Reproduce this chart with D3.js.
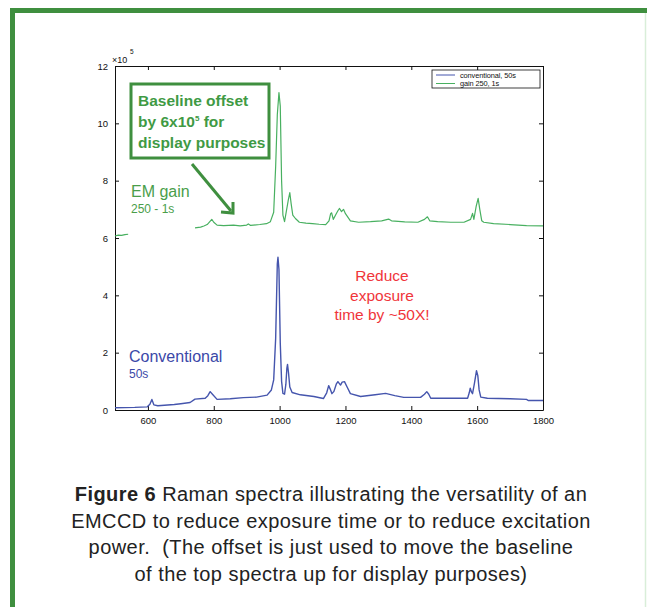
<!DOCTYPE html>
<html>
<head>
<meta charset="utf-8">
<script src="https://cdn.jsdelivr.net/npm/d3@7"></script>
<style>
  body { margin: 0; background: #fff; }
  svg { display: block; font-family: "Liberation Sans", Arial, Helvetica, sans-serif; }
</style>
</head>
<body>
<svg id="chart" width="647" height="607"></svg>
<script>
// conventional, 50s  (counts x 1e5)
var convWn  = [500, 560, 598, 606, 612, 618, 630, 680, 700, 728, 743, 774, 782, 789, 796, 810, 850, 890, 930, 962,
               975, 982, 988, 993, 995, 998, 1002, 1006, 1010, 1015, 1019, 1022, 1024, 1027, 1031, 1038, 1063, 1104,
               1133, 1143, 1149, 1154, 1159, 1165, 1172, 1177, 1185, 1190, 1197, 1205, 1215, 1246, 1290, 1322, 1350,
               1377, 1428, 1440, 1447, 1453, 1459, 1571, 1576, 1579, 1583, 1586, 1592, 1598, 1602, 1606, 1611, 1631,
               1700, 1750, 1755, 1800];
var convVal = [0.08, 0.09, 0.11, 0.2, 0.37, 0.18, 0.15, 0.19, 0.22, 0.26, 0.38, 0.41, 0.5, 0.64, 0.55, 0.37, 0.39, 0.43, 0.45, 0.52,
               0.7, 1.05, 2.5, 5.1, 5.33, 4.9, 2.33, 1.0, 0.58, 0.55, 0.9, 1.45, 1.59, 1.3, 0.8, 0.61, 0.53, 0.47,
               0.4, 0.6, 0.85, 0.72, 0.57, 0.65, 0.9, 0.99, 0.87, 0.97, 0.99, 0.8, 0.57, 0.47, 0.53, 0.58, 0.5,
               0.44, 0.44, 0.55, 0.64, 0.55, 0.41, 0.41, 0.6, 0.76, 0.62, 0.57, 0.95, 1.37, 1.2, 0.7, 0.45, 0.41,
               0.39, 0.37, 0.33, 0.33];

// gain 250, 1s (counts x 1e5, before the display offset); null = gap
var gainWn  = [500, 510, 520, 530, 540, 541,
               743, 760, 770, 780, 794, 800, 810, 830, 860, 880, 900, 905, 912, 940, 960, 972, 982, 988, 993, 998,
               1002, 1006, 1010, 1015, 1020, 1026, 1031, 1035, 1040, 1048, 1060, 1080, 1100, 1120, 1140, 1150, 1155,
               1158, 1163, 1170, 1177, 1182, 1188, 1194, 1200, 1215, 1240, 1276, 1310, 1331, 1340, 1380, 1420, 1440,
               1449, 1456, 1480, 1520, 1560, 1580, 1586, 1590, 1597, 1603, 1608, 1614, 1620, 1650, 1700, 1750, 1800];
var gainVal = [0.07, 0.1, 0.09, 0.12, 0.13, null,
               0.35, 0.38, 0.42, 0.47, 0.65, 0.55, 0.45, 0.43, 0.45, 0.42, 0.45, 0.49, 0.44, 0.47, 0.5, 0.57, 0.9, 2.5, 4.3, 5.07,
               4.6, 2.0, 0.8, 0.57, 0.9, 1.3, 1.58, 1.2, 0.8, 0.68, 0.55, 0.52, 0.5, 0.48, 0.47, 0.6, 0.85,
               0.88, 0.65, 0.8, 0.95, 1.03, 0.92, 1.0, 0.85, 0.6, 0.55, 0.57, 0.6, 0.66, 0.6, 0.56, 0.55, 0.65,
               0.74, 0.6, 0.57, 0.55, 0.55, 0.65, 0.86, 0.65, 1.1, 1.38, 1.0, 0.6, 0.55, 0.5, 0.47, 0.43, 0.42];
var gainOffset = 6;

var xTicks = [600, 800, 1000, 1200, 1400, 1600, 1800];
var yTicks = [0, 2, 4, 6, 8, 10, 12];
var legendLabels = ["conventional, 50s", "gain 250, 1s"];
var captionLines = [
  ["Figure 6", " Raman spectra illustrating the versatility of an"],
  ["", "EMCCD to reduce exposure time or to reduce excitation"],
  ["", "power.  (The offset is just used to move the baseline"],
  ["", "of the top spectra up for display purposes)"]
];

var blue = "#4555ad", green = "#48b060", dkGreen = "#3f8f3f";

var svg = d3.select("#chart");

// page frame
svg.append("rect").attr("x", 10).attr("y", 8).attr("width", 637).attr("height", 5).attr("fill", dkGreen);
svg.append("rect").attr("x", 10).attr("y", 8).attr("width", 5).attr("height", 599).attr("fill", dkGreen);
svg.append("line").attr("x1", 645.5).attr("x2", 645.5).attr("y1", 13).attr("y2", 607)
  .attr("stroke", "#d9eed9").attr("stroke-width", 1.5);

var margin = {top: 66, left: 115},
    width = 428, height = 344;

var x = d3.scaleLinear().domain([500, 1800]).range([0, width]);
var y = d3.scaleLinear().domain([0, 12]).range([height, 0]);

var g = svg.append("g").attr("transform", "translate(" + margin.left + "," + margin.top + ")");

// axes, MATLAB style ticks pointing in
var xAxis = g.append("g").attr("transform", "translate(0," + height + ")")
  .call(d3.axisBottom(x).tickValues(xTicks).tickFormat(d3.format("d")).tickSizeInner(-4).tickSizeOuter(0).tickPadding(7));
var xTop = g.append("g")
  .call(d3.axisTop(x).tickValues(xTicks).tickSizeInner(-4).tickSizeOuter(0).tickFormat(""));
var yAxis = g.append("g")
  .call(d3.axisLeft(y).tickValues(yTicks).tickSizeInner(-4).tickSizeOuter(0).tickPadding(7));
var yRight = g.append("g").attr("transform", "translate(" + width + ",0)")
  .call(d3.axisRight(y).tickValues(yTicks).tickSizeInner(-4).tickSizeOuter(0).tickFormat(""));
[xAxis, xTop, yAxis, yRight].forEach(function(a) {
  a.selectAll("text").attr("font-size", 9.5).attr("font-family", "Liberation Sans, Arial, sans-serif").attr("fill", "#111");
  a.selectAll("line, path").attr("stroke", "#111");
});

g.append("text").attr("x", -3).attr("y", -3).attr("font-size", 9).attr("fill", "#111").text("\u00d710");
g.append("text").attr("x", 15).attr("y", -12).attr("font-size", 6.5).attr("fill", "#111").text("5");

// spectra
var convData = convWn.map(function(w, i) { return {x: w, y: convVal[i]}; });
var gainData = gainWn.map(function(w, i) { return {x: w, y: gainVal[i] == null ? null : gainVal[i] + gainOffset}; });

var line = d3.line()
  .defined(function(d) { return d.y != null; })
  .x(function(d) { return x(d.x); })
  .y(function(d) { return y(d.y); });

g.append("path").datum(gainData).attr("d", line)
  .attr("fill", "none").attr("stroke", green).attr("stroke-width", 1.2).attr("stroke-linejoin", "round");
g.append("path").datum(convData).attr("d", line)
  .attr("fill", "none").attr("stroke", blue).attr("stroke-width", 1.4).attr("stroke-linejoin", "round");

// legend
var leg = g.append("g").attr("transform", "translate(317,4)");
leg.append("rect").attr("width", 108).attr("height", 18).attr("fill", "#fff").attr("stroke", "#111").attr("stroke-width", 0.8);
legendLabels.forEach(function(l, i) {
  leg.append("line").attr("x1", 4).attr("x2", 23).attr("y1", 5 + i * 8.5).attr("y2", 5 + i * 8.5)
    .attr("stroke", i == 0 ? blue : green).attr("stroke-width", 1);
  leg.append("text").attr("x", 28).attr("y", 7.6 + i * 8.5).attr("font-size", 7.4).attr("letter-spacing", -0.1)
    .attr("fill", "#111").text(l);
});

// annotations
svg.append("rect").attr("x", 131).attr("y", 84).attr("width", 138).attr("height", 74)
  .attr("fill", "#fff").attr("stroke", dkGreen).attr("stroke-width", 3);
var box = svg.append("text").attr("font-size", 15.5).attr("fill", "#3f9a44").attr("font-weight", "bold");
box.append("tspan").attr("x", 138).attr("y", 106).text("Baseline offset");
var l2 = box.append("tspan").attr("x", 138).attr("y", 127).text("by 6x10");
l2.append("tspan").attr("font-size", 8).attr("dy", -6).text("5");
l2.append("tspan").attr("dy", 6).text(" for");
box.append("tspan").attr("x", 138).attr("y", 148).text("display purposes");

svg.append("line").attr("x1", 192).attr("y1", 164).attr("x2", 231).attr("y2", 211)
  .attr("stroke", dkGreen).attr("stroke-width", 3);
svg.append("path").attr("d", "M221,212 L233,213 L233,202")
  .attr("fill", "none").attr("stroke", dkGreen).attr("stroke-width", 3);

svg.append("text").attr("x", 131).attr("y", 197).attr("font-size", 16).attr("fill", "#4a9e4a").text("EM gain");
svg.append("text").attr("x", 131).attr("y", 213).attr("font-size", 12).attr("fill", "#4a9e4a").text("250 - 1s");

svg.append("text").attr("x", 129).attr("y", 362).attr("font-size", 16).attr("fill", "#3b48a8").text("Conventional");
svg.append("text").attr("x", 129).attr("y", 378).attr("font-size", 12).attr("fill", "#3b48a8").text("50s");

var red = svg.append("text").attr("text-anchor", "middle").attr("font-size", 15.5).attr("fill", "#f0353b");
["Reduce", "exposure", "time by ~50X!"].forEach(function(t, i) {
  red.append("tspan").attr("x", 382).attr("y", 281 + i * 19.5).text(t);
});

// caption
captionLines.forEach(function(parts, i) {
  var t = svg.append("text").attr("x", 331).attr("y", 501 + i * 26.5).attr("text-anchor", "middle")
    .attr("font-size", 20).attr("letter-spacing", 0.45).attr("fill", "#222").style("white-space", "pre");
  if (parts[0]) t.append("tspan").attr("font-weight", "bold").text(parts[0]);
  t.append("tspan").text(parts[1]);
});
</script>
</body>
</html>
